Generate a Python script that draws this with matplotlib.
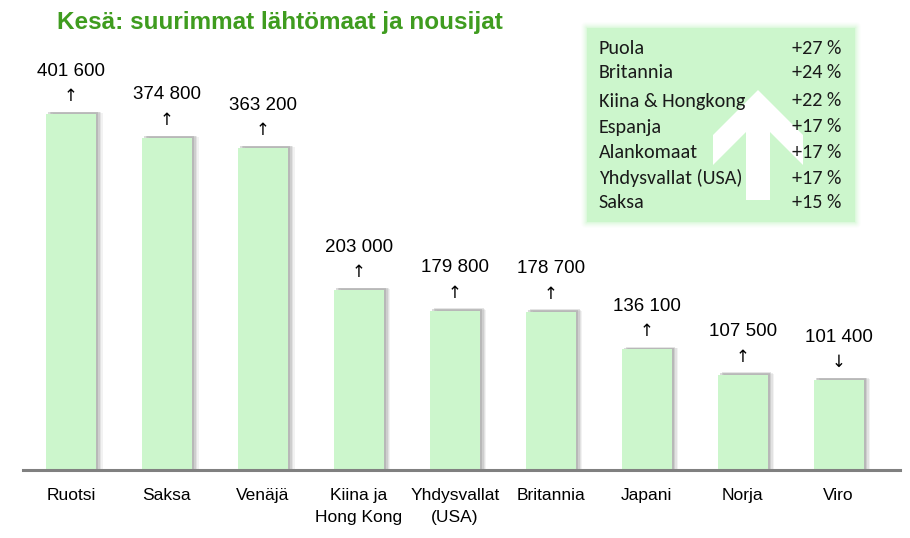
import matplotlib
matplotlib.use("Agg")
import matplotlib.pyplot as plt
from matplotlib.patches import Polygon, FancyBboxPatch
from matplotlib import font_manager as fm

countries = ["Ruotsi", "Saksa", "Venäjä", "Kiina ja\nHong Kong", "Yhdysvallat\n(USA)",
             "Britannia", "Japani", "Norja", "Viro"]
visitors = [401600, 374800, 363200, 203000, 179800, 178700, 136100, 107500, 101400]
value_labels = ["401 600", "374 800", "363 200", "203 000", "179 800", "178 700",
                "136 100", "107 500", "101 400"]
trend = ["↑", "↑", "↑", "↑", "↑", "↑", "↑", "↑", "↓"]

risers = ["Puola", "Britannia", "Kiina & Hongkong", "Espanja", "Alankomaat",
          "Yhdysvallat (USA)", "Saksa"]
riser_growth = ["+27 %", "+24 %", "+22 %", "+17 %", "+17 %", "+17 %", "+15 %"]

title = "Kesä: suurimmat lähtömaat ja nousijat"

available = {f.name for f in fm.fontManager.ttflist}
narrow = "Liberation Sans Narrow" if "Liberation Sans Narrow" in available else "Liberation Sans"
boxfont = "Carlito" if "Carlito" in available else "Lato"

W, H = 910, 538
fig = plt.figure(figsize=(W / 100, H / 100), dpi=100)
fig.patch.set_facecolor("white")

ax = fig.add_axes([23 / W, 68 / H, 877 / W, 470 / H])
ymax = 470 / 0.000886
x = list(range(len(countries)))

# soft shadows (mostly to the right)
for dx, dy, a in [(0.07, 0.002, 0.10), (0.055, 0.004, 0.15), (0.04, 0.005, 0.22), (0.025, 0.004, 0.3)]:
    ax.bar([i + dx for i in x], [v + dy * ymax for v in visitors], width=0.52,
           color="#888888", alpha=a, zorder=1, linewidth=0)
ax.bar(x, visitors, width=0.52, color="#ccf6cc", zorder=2, linewidth=0)

ax.set_xlim(-0.5, 8.64)
ax.set_ylim(0, ymax)
for s in ["top", "right", "left"]:
    ax.spines[s].set_visible(False)
ax.spines["bottom"].set_color("#808080")
ax.spines["bottom"].set_linewidth(2.2)
ax.set_yticks([])
ax.set_xticks(x)
ax.set_xticklabels(countries, family=[narrow, "DejaVu Sans"], fontsize=12.5,
                   linespacing=1.6)
ax.tick_params(axis="x", length=0, pad=13)

for i, v in enumerate(visitors):
    ax.annotate(value_labels[i], xy=(i, v), xytext=(0, 43 * 0.72), textcoords="offset points",
                ha="center", va="center", fontsize=13.5, family=["Liberation Sans"])
    ax.annotate(trend[i], xy=(i, v), xytext=(0, 18 * 0.72), textcoords="offset points",
                ha="center", va="center", fontsize=12, family=["DejaVu Sans"])

# overlay in pixel coords
ov = fig.add_axes([0, 0, 1, 1], zorder=5)
ov.set_xlim(0, W)
ov.set_ylim(H, 0)
ov.axis("off")
ov.patch.set_alpha(0)

fig.text(57 / W, 1 - 22 / H, title, ha="left", va="center", fontsize=17.5,
         fontweight="bold", color="#3f9c1f", family=["Liberation Sans"])

# box with soft glow
bx0, by0, bx1, by1 = 587, 28, 855, 222
for k, a in zip(range(6, 0, -1), [0.06, 0.08, 0.1, 0.14, 0.2, 0.3]):
    ov.add_patch(FancyBboxPatch((bx0 - k, by0 - k), bx1 - bx0 + 2 * k, by1 - by0 + 2 * k,
                                boxstyle="round,pad=0,rounding_size=%d" % k,
                                facecolor="#ccf6cc", edgecolor="none", alpha=a))
ov.add_patch(FancyBboxPatch((bx0, by0), bx1 - bx0, by1 - by0, boxstyle="square,pad=0",
                            facecolor="#ccf6cc", edgecolor="none"))

arrow = [(758, 90), (803, 135), (803, 165), (770, 132), (770, 200), (746, 200),
         (746, 132), (713, 165), (713, 135)]
ov.add_patch(Polygon(arrow, closed=True, facecolor="white", edgecolor="none"))

rows_y = [48, 73, 101, 127, 152, 178, 203]
for name, g, yy in zip(risers, riser_growth, rows_y):
    ov.text(599, yy, name, ha="left", va="center", fontsize=14.5, family=[boxfont, "DejaVu Sans"],
            color="#1a1a1a")
    ov.text(841, yy, g, ha="right", va="center", fontsize=14.5, family=[boxfont, "DejaVu Sans"],
            color="#1a1a1a")

fig.savefig("out.png", dpi=100)
